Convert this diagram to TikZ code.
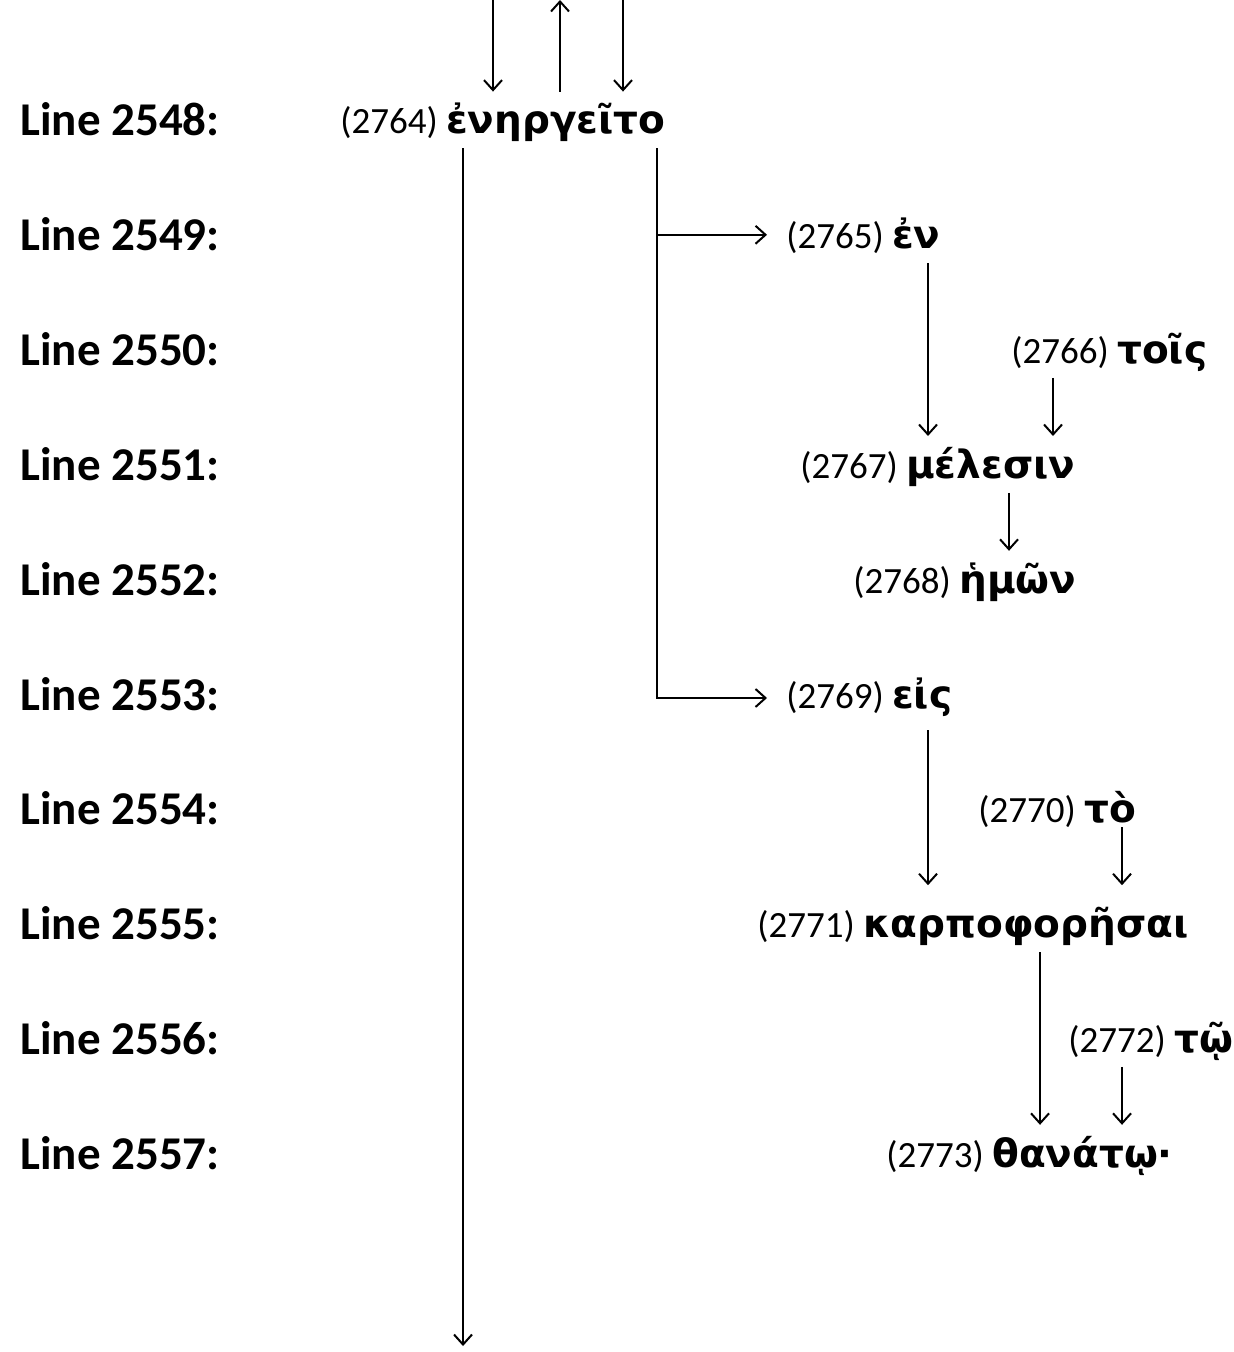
\documentclass[tikz,border=0pt]{standalone}
\usepackage{fontspec}
\setmainfont{Carlito}
\newfontfamily\grk{DejaVu Sans}
\usetikzlibrary{arrows.meta}
\tikzset{>={Straight Barb[length=5pt,width=9pt]}}
\tikzset{
  linelbl/.style={anchor=base west,inner sep=0pt,font=\fontsize{23.5}{28}\selectfont\bfseries},
  word/.style={anchor=base west,inner xsep=5pt,inner ysep=0pt,text height=21pt,text depth=7pt,font=\fontsize{18.5}{22}\selectfont},
  link/.style={line width=1pt,->}
}
\newcommand{\gw}[1]{{\grk\bfseries\fontsize{19.5}{23}\selectfont #1}}

\begin{document}
\begin{tikzpicture}[x=0.5pt,y=-0.5pt]
          \useasboundingbox (0,0) rectangle (1233,1352);

          % Line labels
          \foreach \k/\n in {0/2548,1/2549,2/2550,3/2551,4/2552,5/2553,6/2554,7/2555,8/2556,9/2557}
            \node[linelbl] (l\n) at (20,136+114.8*\k) {Line \n:};

          % Words
          \node[word] (n2764) at (330,134)     {(2764) \gw{ἐνηργεῖτο}};
          \node[word] (n2765) at (776,248.8)   {(2765) \gw{ἐν}};
          \node[word] (n2766) at (1001,363.6)  {(2766) \gw{τοῖς}};
          \node[word] (n2767) at (790,478.4)   {(2767) \gw{μέλεσιν}};
          \node[word] (n2768) at (843,593.2)   {(2768) \gw{ἡμῶν}};
          \node[word,text depth=11pt] (n2769) at (776,708) {(2769) \gw{εἰς}};
          \node[word,text depth=2pt] (n2770) at (968,822.8) {(2770) \gw{τὸ}};
          \node[word,text height=26pt] (n2771) at (747,937.6) {(2771) \gw{καρποφορῆσαι}};
          \node[word] (n2772) at (1058,1052.4) {(2772) \gw{τῷ}};
          \node[word] (n2773) at (876,1167.2)  {(2773) \gw{θανάτῳ·}};

          % Free ends
          \coordinate (in1) at (493,0);
          \coordinate (in2) at (560,0);
          \coordinate (in3) at (623,0);
          \coordinate (out) at (463,1346);

          % Arrows
          \draw[link] (in1) -- (n2764.north -| in1);
          \draw[link] (n2764.north -| in2) -- (in2);
          \draw[link] (in3) -- (n2764.north -| in3);
          \draw[link] (n2764.south -| out) -- (out);
          \draw[link,shorten >=4.5pt] (n2764.south -| 657,0) |- (n2769.west);
          \draw[link,shorten >=4.5pt] (n2765.west -| 657,0) -- (n2765.west);
          \draw[link] (n2765.south -| 928,0) -- (n2767.north -| 928,0);
          \draw[link] (n2766.south -| 1053,0) -- (n2767.north -| 1053,0);
          \draw[link] (n2767.south -| 1009,0) -- (n2768.north -| 1009,0);
          \draw[link] (n2769.south -| 928,0) -- (n2771.north -| 928,0);
          \draw[link] (n2770.south -| 1122,0) -- (n2771.north -| 1122,0);
          \draw[link] (n2771.south -| 1040,0) -- (n2773.north -| 1040,0);
          \draw[link] (n2772.south -| 1122,0) -- (n2773.north -| 1122,0);

        \end{tikzpicture}
\end{document}
